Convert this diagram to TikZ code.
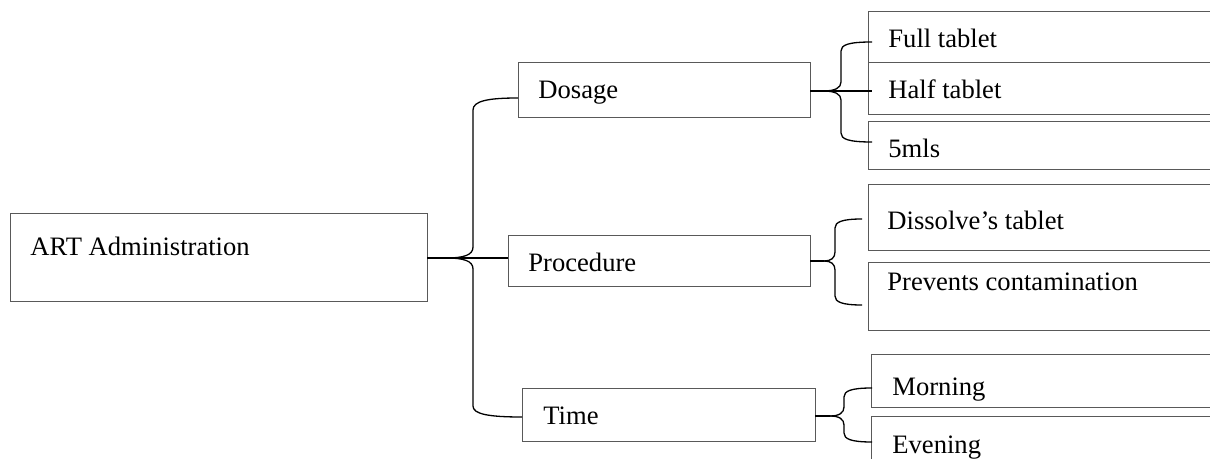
\documentclass[tikz,border=0pt]{standalone}
\usepackage{fontspec}
\setmainfont{Liberation Serif}
\begin{document}
\begin{tikzpicture}[x=0.5pt,y=-0.5pt,
  box/.style={draw=black!65,line width=0.5pt,anchor=north west,inner sep=0pt,outer sep=0pt},
  lbl/.style={anchor=base west,inner sep=0pt,font=\fontsize{13.3}{15}\selectfont},
  conn/.style={draw=black,line width=0.65pt}]
\useasboundingbox (0,0) rectangle (1210,459);
\clip (0,0) rectangle (1210,459);
% boxes
\node[box,minimum width=208.5pt,minimum height=44pt] (root) at (10,214) {};
\node[box,minimum width=146pt,minimum height=27.5pt] (dos) at (518,63) {};
\node[box,minimum width=151pt,minimum height=25.5pt] (pro) at (508,236) {};
\node[box,minimum width=146.5pt,minimum height=26.5pt] (tim) at (522,389) {};
\node[box,minimum width=181pt,minimum height=25.5pt] (full) at (868,12) {};
\node[box,minimum width=181pt,minimum height=26pt] (half) at (868,63) {};
\node[box,minimum width=181pt,minimum height=24pt] (mls) at (868,122) {};
\node[box,minimum width=181pt,minimum height=33pt] (dis) at (868,185) {};
\node[box,minimum width=181pt,minimum height=34pt] (prev) at (868,263) {};
\node[box,minimum width=179.5pt,minimum height=26.5pt] (morn) at (871,355) {};
\node[box,minimum width=179.5pt,minimum height=31.5pt] (even) at (871,417) {};
% labels
\node[lbl] (troot) at (30,256) {ART Administration};
\node[lbl] (tdos) at (538,99) {Dosage};
\node[lbl] (tpro) at (528,272) {Procedure};
\node[lbl] (ttim) at (543,425) {Time};
\node[lbl] (tfull) at (888,48) {Full tablet};
\node[lbl] (thalf) at (888,99) {Half tablet};
\node[lbl] (tmls) at (888,158) {5mls};
\node[lbl] (tdis) at (887,230) {Dissolve’s tablet};
\node[lbl] (tprev) at (887,291) {Prevents contamination};
\node[lbl] (tmorn) at (892,396) {Morning};
\node[lbl] (teven) at (892,454) {Evening};
% root brace
\coordinate (rj) at (446,258);
\draw[conn,line width=1.1pt] (root.east) -- (rj);
\draw[conn] (rj) .. controls (464,258) and (473,255) .. (473,247) -- (473,110)
  .. controls (473,101) and (488,98) .. (dos.west |- 0,98);
\draw[conn] (rj) -- (pro.west |- rj);
\draw[conn] (rj) .. controls (464,258) and (473,261) .. (473,269) -- (473,406)
  .. controls (473,414) and (488,417) .. (tim.west |- 0,417);
% dosage brace
\coordinate (dj) at (823,91);
\draw[conn,line width=0.9pt] (dos.east |- dj) -- (dj);
\draw[conn] (dj) .. controls (835,91) and (841,88) .. (841,82) -- (841,51)
  .. controls (841,45) and (848,42) .. (872,42);
\draw[conn] (dj) -- (872,91);
\draw[conn] (dj) .. controls (835,91) and (841,94) .. (841,100) -- (841,133)
  .. controls (841,139) and (848,142) .. (872,142);
% procedure brace
\coordinate (pj) at (824,261);
\draw[conn,line width=0.9pt] (pro.east |- pj) -- (pj);
\draw[conn] (pj) .. controls (831,261) and (835,258) .. (835,252) -- (835,228)
  .. controls (835,222) and (842,219) .. (862,219);
\draw[conn] (pj) .. controls (831,261) and (835,264) .. (835,270) -- (835,296)
  .. controls (835,302) and (842,305) .. (862,305);
% time brace
\coordinate (tj) at (830,416);
\draw[conn,line width=0.9pt] (tim.east |- tj) -- (tj);
\draw[conn] (tj) .. controls (839,416) and (844,413) .. (844,407) -- (844,397)
  .. controls (844,391) and (851,388) .. (872,388);
\draw[conn] (tj) .. controls (839,416) and (844,419) .. (844,425) -- (844,433)
  .. controls (844,439) and (851,442) .. (872,442);
\end{tikzpicture}
\end{document}
